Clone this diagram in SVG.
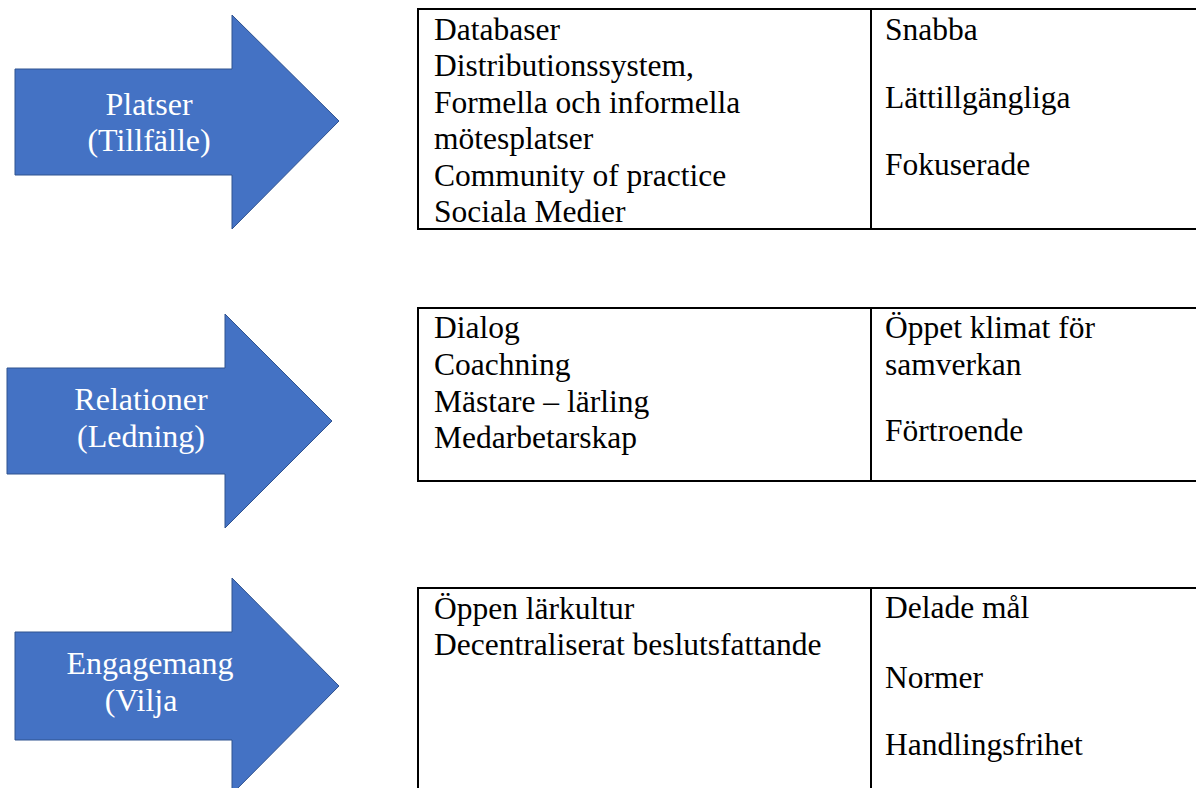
<svg xmlns="http://www.w3.org/2000/svg" width="1196" height="788" viewBox="0 0 1196 788">
<style>
.arrow{fill:#4472C4;stroke:#2F528F;stroke-width:1}
.al{font-family:'Liberation Serif','DejaVu Serif',serif;font-size:32px;fill:#FFFFFF;text-anchor:middle}
.cell{fill:#FFFFFF;stroke:#000000;stroke-width:2}
.div{stroke:#000000;stroke-width:2}
.t{font-family:'Liberation Serif','DejaVu Serif',serif;font-size:31.5px;fill:#000000}
</style>
<rect x="0" y="0" width="1196" height="788" fill="#FFFFFF"/>
<g id="connectors"></g>
<g id="arrow-platser">
<polygon class="arrow" points="15,69 232,69 232,15 339,121 232,229 232,175 15,175"/>
<text class="al" x="149" y="115">Platser</text>
<text class="al" x="149" y="151">(Tillfälle)</text>
</g>
<g id="arrow-relationer">
<polygon class="arrow" points="7,368 225,368 225,314 332,421 225,528 225,474 7,474"/>
<text class="al" x="141" y="410">Relationer</text>
<text class="al" x="141" y="447">(Ledning)</text>
</g>
<g id="arrow-engagemang">
<polygon class="arrow" points="15,632 232,632 232,578 339,686 232,794 232,740 15,740"/>
<text class="al" x="150" y="674">Engagemang</text>
<text class="al" x="141" y="711">(Vilja</text>
</g>
<g id="table-platser">
<rect class="cell" x="418" y="9" width="800" height="220"/>
<line class="div" x1="871" y1="9" x2="871" y2="229"/>
<text class="t" x="434" y="40">Databaser</text>
<text class="t" x="434" y="76">Distributionssystem,</text>
<text class="t" x="434" y="113">Formella och informella</text>
<text class="t" x="434" y="149">mötesplatser</text>
<text class="t" x="434" y="186">Community of practice</text>
<text class="t" x="434" y="222">Sociala Medier</text>
<text class="t" x="885" y="40">Snabba</text>
<text class="t" x="885" y="108">Lättillgängliga</text>
<text class="t" x="885" y="175">Fokuserade</text>
</g>
<g id="table-relationer">
<rect class="cell" x="418" y="308" width="800" height="173"/>
<line class="div" x1="871" y1="308" x2="871" y2="481"/>
<text class="t" x="434" y="338">Dialog</text>
<text class="t" x="434" y="375">Coachning</text>
<text class="t" x="434" y="412">Mästare – lärling</text>
<text class="t" x="434" y="448">Medarbetarskap</text>
<text class="t" x="885" y="338">Öppet klimat för</text>
<text class="t" x="885" y="375">samverkan</text>
<text class="t" x="885" y="441">Förtroende</text>
</g>
<g id="table-engagemang">
<rect class="cell" x="418" y="588" width="800" height="230"/>
<line class="div" x1="871" y1="588" x2="871" y2="800"/>
<text class="t" x="434" y="619">Öppen lärkultur</text>
<text class="t" x="434" y="655">Decentraliserat beslutsfattande</text>
<text class="t" x="885" y="618">Delade mål</text>
<text class="t" x="885" y="688">Normer</text>
<text class="t" x="885" y="755">Handlingsfrihet</text>
</g>
</svg>
